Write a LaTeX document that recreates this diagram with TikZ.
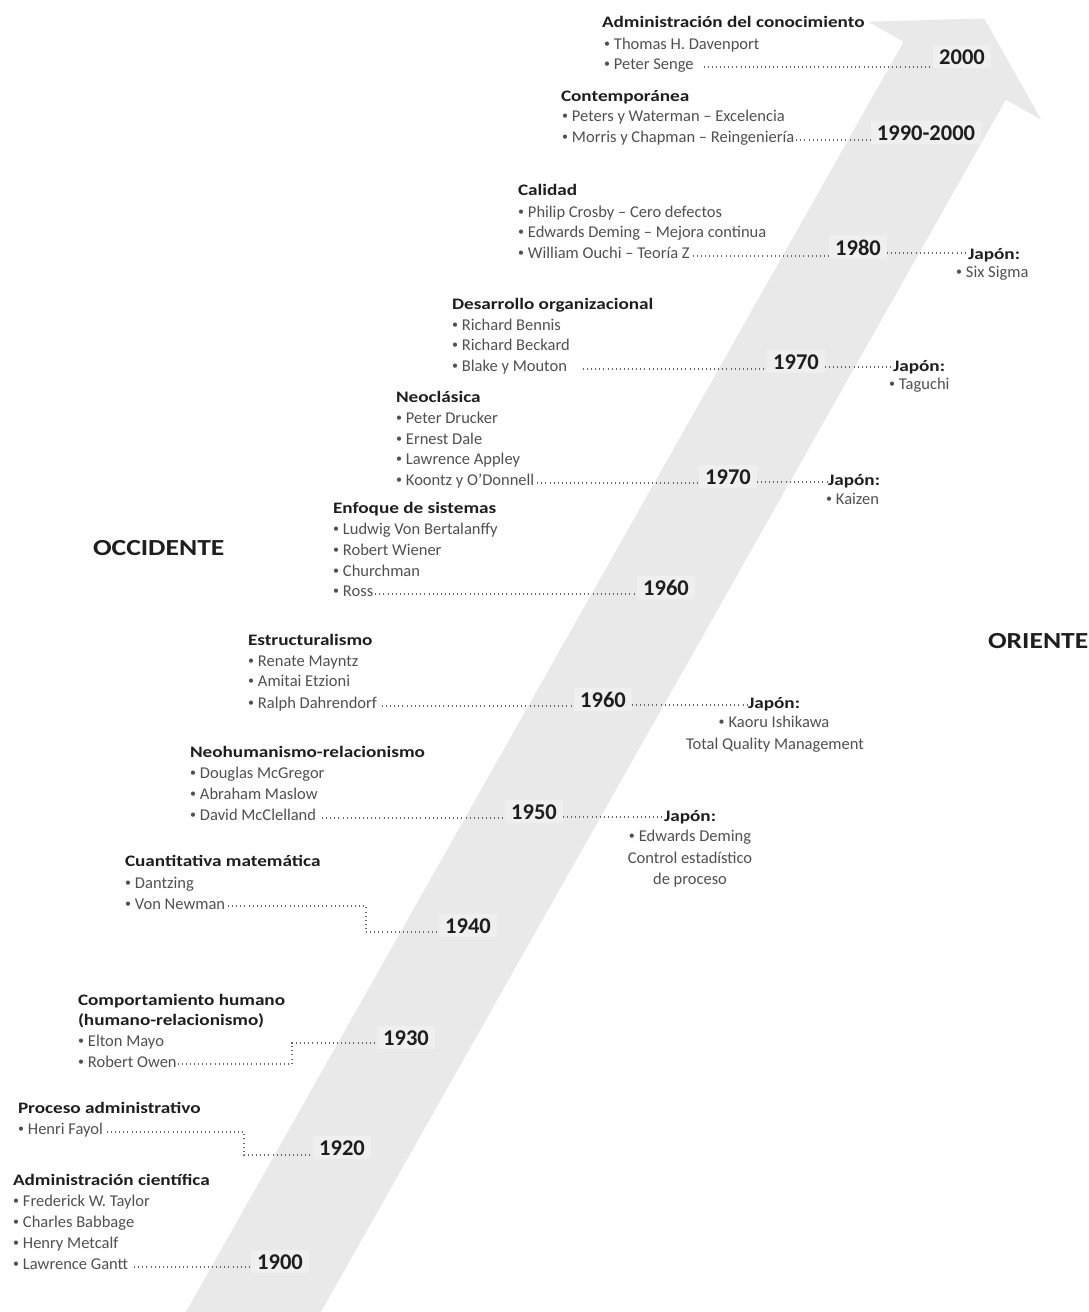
\documentclass[tikz,border=0pt]{standalone}
\usepackage{fontspec}
\setmainfont{Carlito}
\newfontfamily\hfont[FakeStretch=1.2]{Carlito}
\definecolor{band}{RGB}{233,233,233}
\definecolor{txt}{RGB}{80,80,80}
\definecolor{dark}{RGB}{30,30,30}
\newcommand\itb{\raisebox{1.2pt}{\fontsize{12}{12}\selectfont •}\hspace{4pt}}
\begin{document}
\begin{tikzpicture}[x=1pt,y=-1pt,
  every node/.style={inner sep=0pt,outer sep=0pt},
  item/.style={anchor=base west,text=txt,font=\fontsize{16.5}{20}\selectfont},
  citem/.style={item,anchor=base},
  head/.style={anchor=base west,text=dark,font=\hfont\bfseries\fontsize{16}{20}\selectfont},
  year/.style={anchor=base,text=dark,font=\bfseries\fontsize{22.5}{26}\selectfont,
    fill=white,fill opacity=0.3,text opacity=1,inner xsep=6pt,inner ysep=4pt},
  big/.style={anchor=base west,text=dark,font=\hfont\bfseries\fontsize{23}{26}\selectfont},
  leader/.style={draw=black!60,line width=1.1pt,dash pattern=on 0.9pt off 3.2pt}]
\fill[white] (0,0) rectangle (1089,1312);
\useasboundingbox (0,0) rectangle (1089,1312);
% big arrow
\fill[band] (185.9,1312) -- (903.6,41.8) -- (868.2,21.7) -- (984.2,18.5)
  -- (1041.2,119.7) -- (1005.8,99.7) -- (320.9,1312) -- cycle;

% side labels
\node[big] (occ) at (93,555) {OCCIDENTE};
\node[big] (ori) at (988,648) {ORIENTE};

% 2000
\node[head] (hA) at (602,27) {Administración del conocimiento};
\node[item] (A1) at (604,49) {\itb Thomas H. Davenport};
\node[item] (A2) at (604,69) {\itb Peter Senge};
\node[year] (yA) at (962,64) {2000};
\draw[leader] ([xshift=10pt,yshift=2pt]A2.base east) -- ([yshift=2pt]A2.base east -| yA.west);

% 1990-2000
\node[head] (hB) at (561,101) {Contemporánea};
\node[item] (B1) at (562,121) {\itb Peters y Waterman – Excelencia};
\node[item] (B2) at (562,142) {\itb Morris y Chapman – Reingeniería};
\node[year] (yB) at (926,140) {1990-2000};
\draw[leader] ([xshift=2pt,yshift=2pt]B2.base east) -- ([yshift=2pt]B2.base east -| yB.west);

% 1980
\node[head] (hC) at (518,195) {Calidad};
\node[item] (C1) at (518,217) {\itb Philip Crosby – Cero defectos};
\node[item] (C2) at (518,237) {\itb Edwards Deming – Mejora continua};
\node[item] (C3) at (518,258) {\itb William Ouchi – Teoría Z};
\node[year] (yC) at (858,255) {1980};
\node[head] (jC) at (968,259) {Japón:};
\node[item] (jC2) at (956,277) {\itb Six Sigma};
\draw[leader] ([xshift=3pt,yshift=2pt]C3.base east) -- ([yshift=2pt]C3.base east -| yC.west);
\draw[leader] ([yshift=2pt]yC.base east) -- ([yshift=2pt]yC.base east -| jC.west);

% 1970 (DO)
\node[head] (hD) at (452,309) {Desarrollo organizacional};
\node[item] (D1) at (452,330) {\itb Richard Bennis};
\node[item] (D2) at (452,350) {\itb Richard Beckard};
\node[item] (D3) at (452,371) {\itb Blake y Mouton};
\node[year] (yD) at (796,369) {1970};
\node[head] (jD) at (893,371) {Japón:};
\node[item] (jD2) at (889,389) {\itb Taguchi};
\draw[leader] ([xshift=16pt,yshift=2pt]D3.base east) -- ([yshift=2pt]D3.base east -| yD.west);
\draw[leader] ([yshift=2pt]yD.base east) -- ([yshift=2pt]yD.base east -| jD.west);

% 1970 (Neoclasica)
\node[head] (hE) at (396,402) {Neoclásica};
\node[item] (E1) at (396,423) {\itb Peter Drucker};
\node[item] (E2) at (396,444) {\itb Ernest Dale};
\node[item] (E3) at (396,464) {\itb Lawrence Appley};
\node[item] (E4) at (396,485) {\itb Koontz y O’Donnell};
\node[year] (yE) at (728,484) {1970};
\node[head] (jE) at (828,485) {Japón:};
\node[item] (jE2) at (826,504) {\itb Kaizen};
\draw[leader] ([xshift=3pt,yshift=2pt]E4.base east) -- ([yshift=2pt]E4.base east -| yE.west);
\draw[leader] ([yshift=2pt]yE.base east) -- ([yshift=2pt]yE.base east -| jE.west);

% 1960 (sistemas)
\node[head] (hF) at (333,513) {Enfoque de sistemas};
\node[item] (F1) at (333,534) {\itb Ludwig Von Bertalanffy};
\node[item] (F2) at (333,555) {\itb Robert Wiener};
\node[item] (F3) at (333,576) {\itb Churchman};
\node[item] (F4) at (333,596) {\itb Ross};
\node[year] (yF) at (666,595) {1960};
\draw[leader] ([xshift=2pt,yshift=2pt]F4.base east) -- ([yshift=2pt]F4.base east -| yF.west);

% 1960 (estructuralismo)
\node[head] (hG) at (248,645) {Estructuralismo};
\node[item] (G1) at (248,666) {\itb Renate Mayntz};
\node[item] (G2) at (248,686) {\itb Amitai Etzioni};
\node[item] (G3) at (248,708) {\itb Ralph Dahrendorf};
\node[year] (yG) at (603,707) {1960};
\node[head] (jG) at (748,708) {Japón:};
\node[citem] (jG2) at (774,727) {\itb Kaoru Ishikawa};
\node[citem] (jG3) at (775,749) {Total Quality Management};
\draw[leader] ([xshift=5pt,yshift=2pt]G3.base east) -- ([yshift=2pt]G3.base east -| yG.west);
\draw[leader] ([yshift=2pt]yG.base east) -- ([yshift=2pt]yG.base east -| jG.west);

% 1950
\node[head] (hH) at (190,757) {Neohumanismo-relacionismo};
\node[item] (H1) at (190,778) {\itb Douglas McGregor};
\node[item] (H2) at (190,799) {\itb Abraham Maslow};
\node[item] (H3) at (190,820) {\itb David McClelland};
\node[year] (yH) at (534,819) {1950};
\node[head] (jH) at (664,821) {Japón:};
\node[citem] (jH2) at (690,841) {\itb Edwards Deming};
\node[citem] (jH3) at (690,863) {Control estadístico};
\node[citem] (jH4) at (690,884) {de proceso};
\draw[leader] ([xshift=6pt,yshift=2pt]H3.base east) -- ([yshift=2pt]H3.base east -| yH.west);
\draw[leader] ([yshift=2pt]yH.base east) -- ([yshift=2pt]yH.base east -| jH.west);

% 1940
\node[head] (hI) at (125,866) {Cuantitativa matemática};
\node[item] (I1) at (125,888) {\itb Dantzing};
\node[item] (I2) at (125,909) {\itb Von Newman};
\node[year] (yI) at (468,933) {1940};
\coordinate (cI) at (366,906);
\draw[leader] ([xshift=3pt,yshift=3pt]I2.base east) -- (cI) |- ([yshift=1pt]yI.base west);

% 1930
\node[head] (hJ) at (78,1005) {Comportamiento humano};
\node[head] (hJb) at (78,1025) {(humano-relacionismo)};
\node[item] (J1) at (78,1046) {\itb Elton Mayo};
\node[item] (J2) at (78,1067) {\itb Robert Owen};
\node[year] (yJ) at (406,1045) {1930};
\coordinate (cJ) at (292,1064);
\draw[leader] ([xshift=1pt,yshift=3pt]J2.base east) -- (cJ) |- ([yshift=2pt]yJ.base west);

% 1920
\node[head] (hK) at (18,1113) {Proceso administrativo};
\node[item] (K1) at (18,1134) {\itb Henri Fayol};
\node[year] (yK) at (342,1155) {1920};
\coordinate (cK) at (244,1132);
\draw[leader] ([xshift=4pt,yshift=2pt]K1.base east) -- (cK) |- ([yshift=0pt]yK.base west);

% 1900
\node[head] (hL) at (13,1185) {Administración científica};
\node[item] (L1) at (13,1206) {\itb Frederick W. Taylor};
\node[item] (L2) at (13,1227) {\itb Charles Babbage};
\node[item] (L3) at (13,1248) {\itb Henry Metcalf};
\node[item] (L4) at (13,1269) {\itb Lawrence Gantt};
\node[year] (yL) at (280,1269) {1900};
\draw[leader] ([xshift=6pt,yshift=2pt]L4.base east) -- ([yshift=2pt]L4.base east -| yL.west);
\end{tikzpicture}
\end{document}
